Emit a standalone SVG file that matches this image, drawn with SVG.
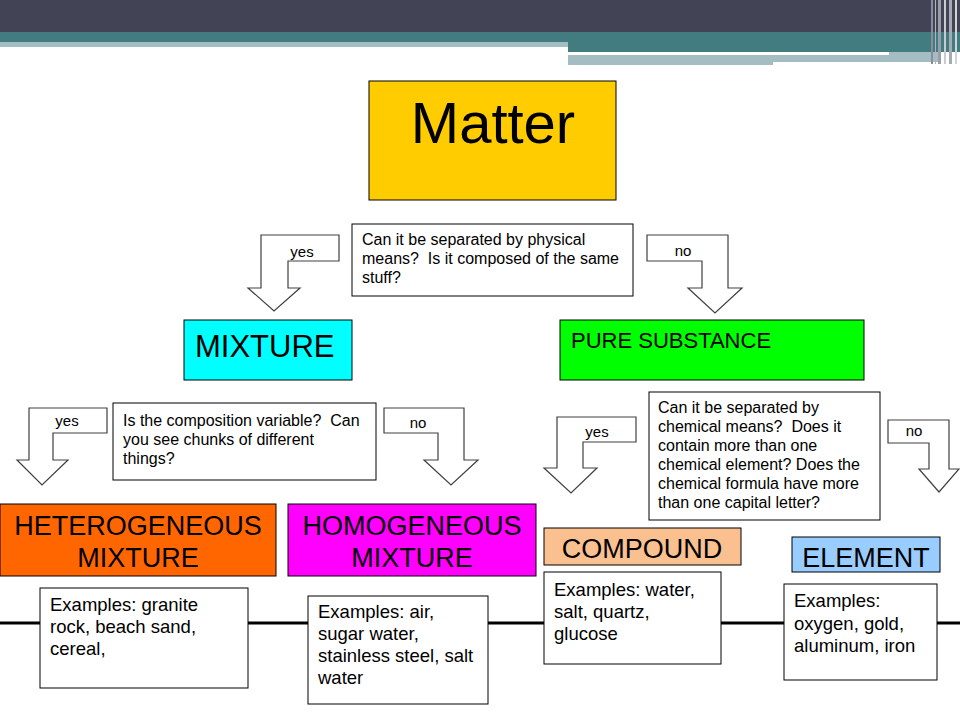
<svg xmlns="http://www.w3.org/2000/svg" width="960" height="720" viewBox="0 0 960 720">
<style>
text{font-family:"Liberation Sans",Arial,sans-serif;fill:#000;white-space:pre}
.box{stroke:#000;stroke-width:1}
.q{font-size:16px}
.ex{font-size:18.5px}
.lbl{font-size:15px}
.arr{fill:#fff;stroke:#404040;stroke-width:1.2;stroke-linejoin:miter}
.big{font-size:27px}
</style>
<rect width="960" height="720" fill="#fff"/>
<g id="banner">
<rect x="0" y="0" width="960" height="32" fill="#424456"/>
<rect x="0" y="32" width="960" height="10" fill="#427C80"/>
<rect x="0" y="42" width="568" height="5" fill="#A3BDC2"/>
<rect x="568" y="42" width="392" height="10" fill="#427C80"/>
<rect x="568" y="52" width="321" height="3" fill="#fff"/>
<rect x="889" y="52" width="52" height="3" fill="#A3BDC2"/>
<rect x="568" y="55" width="205" height="10" fill="#A3BDC2"/>
<rect x="773" y="55" width="168" height="7" fill="#A3BDC2"/>
<rect x="931" y="0" width="2" height="64" fill="#8A8E9A"/>
<rect x="935" y="0" width="1" height="64" fill="#B0B4BC"/>
<rect x="938" y="0" width="3" height="64" fill="#9A9EA8"/>
<rect x="944" y="0" width="2" height="64" fill="#C8CCD2"/>
<rect x="949" y="0" width="3" height="64" fill="#A6AAB2"/>
<rect x="955" y="0" width="2" height="64" fill="#D0D4D8"/>
</g>
<g id="connectors">
<line x1="0" y1="623" x2="960" y2="623" stroke="#000" stroke-width="3"/>
<polygon class="arr" points="339,235 261,235 261,288 248,288 274,311 300,288 288,288 288,261 339,261"/>
<polygon class="arr" points="647,235 728,235 728,288 742,288 715,313 688,288 702,288 702,261 647,261"/>
<polygon class="arr" points="107,408 29,408 29,460 17,460 42,485 68,460 53,460 53,433 107,433"/>
<polygon class="arr" points="384,408 464,408 464,460 478,460 451,485 424,460 438,460 438,433 384,433"/>
<polygon class="arr" points="636,417 557,417 557,468 544,468 571,493 597,468 583,468 583,442 636,442"/>
<polygon class="arr" points="888,420 949,420 949,469 959,469 939,492 919,469 929,469 929,443 888,443"/>
<text class="lbl" x="302" y="257" text-anchor="middle">yes</text>
<text class="lbl" x="683" y="256" text-anchor="middle">no</text>
<text class="lbl" x="67" y="426" text-anchor="middle">yes</text>
<text class="lbl" x="418" y="428" text-anchor="middle">no</text>
<text class="lbl" x="597" y="437" text-anchor="middle">yes</text>
<text class="lbl" x="914" y="436" text-anchor="middle">no</text>
</g>
<g id="matter">
<rect class="box" x="369" y="81" width="247" height="119" fill="#FFCC00"/>
<text x="493" y="143" font-size="58" text-anchor="middle">Matter</text>
</g>
<g id="q-physical">
<rect class="box" x="352" y="224" width="281" height="72" fill="#fff"/>
<text class="q" x="362" y="245">Can it be separated by physical</text>
<text class="q" x="362" y="264">means?  Is it composed of the same</text>
<text class="q" x="362" y="283">stuff?</text>
</g>
<g id="mixture">
<rect class="box" x="184" y="320" width="168" height="60" fill="#00FFFF"/>
<text x="195" y="357" font-size="31">MIXTURE</text>
</g>
<g id="pure-substance">
<rect class="box" x="560" y="320" width="304" height="60" fill="#00FF00"/>
<text x="571" y="348" font-size="22">PURE SUBSTANCE</text>
</g>
<g id="q-composition">
<rect class="box" x="113" y="403" width="263" height="77" fill="#fff"/>
<text class="q" x="123" y="426">Is the composition variable?  Can</text>
<text class="q" x="123" y="445">you see chunks of different</text>
<text class="q" x="123" y="464">things?</text>
</g>
<g id="q-chemical">
<rect class="box" x="649" y="392" width="231" height="128" fill="#fff"/>
<text class="q" x="658" y="413">Can it be separated by</text>
<text class="q" x="658" y="432">chemical means?  Does it</text>
<text class="q" x="658" y="451">contain more than one</text>
<text class="q" x="658" y="470">chemical element? Does the</text>
<text class="q" x="658" y="489">chemical formula have more</text>
<text class="q" x="658" y="508">than one capital letter?</text>
</g>
<g id="heterogeneous">
<rect class="box" x="0" y="504" width="276" height="72" fill="#FF6600"/>
<text class="big" x="138" y="535" text-anchor="middle">HETEROGENEOUS</text>
<text class="big" x="138" y="567" text-anchor="middle">MIXTURE</text>
</g>
<g id="homogeneous">
<rect class="box" x="288" y="504" width="248" height="72" fill="#FF00FF"/>
<text class="big" x="412" y="535" text-anchor="middle">HOMOGENEOUS</text>
<text class="big" x="412" y="567" text-anchor="middle">MIXTURE</text>
</g>
<g id="compound">
<rect class="box" x="544" y="528" width="197" height="37" fill="#FAC090"/>
<text class="big" x="642" y="558" text-anchor="middle">COMPOUND</text>
</g>
<g id="element">
<rect class="box" x="792" y="537" width="148" height="35" fill="#99CCFF"/>
<text class="big" x="866" y="567" text-anchor="middle">ELEMENT</text>
</g>
<g id="ex-heterogeneous">
<rect class="box" x="40" y="588" width="208" height="100" fill="#fff"/>
<text class="ex" x="50" y="611">Examples: granite</text>
<text class="ex" x="50" y="633">rock, beach sand,</text>
<text class="ex" x="50" y="655">cereal,</text>
</g>
<g id="ex-homogeneous">
<rect class="box" x="308" y="596" width="180" height="108" fill="#fff"/>
<text class="ex" x="318" y="618">Examples: air,</text>
<text class="ex" x="318" y="640">sugar water,</text>
<text class="ex" x="318" y="662">stainless steel, salt</text>
<text class="ex" x="318" y="684">water</text>
</g>
<g id="ex-compound">
<rect class="box" x="544" y="572" width="177" height="92" fill="#fff"/>
<text class="ex" x="554" y="596">Examples: water,</text>
<text class="ex" x="554" y="618">salt, quartz,</text>
<text class="ex" x="554" y="640">glucose</text>
</g>
<g id="ex-element">
<rect class="box" x="784" y="584" width="153" height="96" fill="#fff"/>
<text class="ex" x="794" y="607">Examples:</text>
<text class="ex" x="794" y="630">oxygen, gold,</text>
<text class="ex" x="794" y="652">aluminum, iron</text>
</g>
</svg>
